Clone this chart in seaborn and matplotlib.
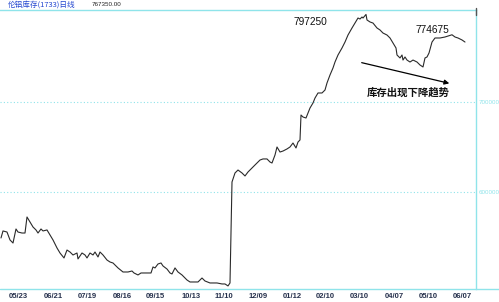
import numpy as np
import pandas as pd
import matplotlib
matplotlib.use("Agg")
import matplotlib.pyplot as plt
import seaborn as sns
from matplotlib.lines import Line2D

# ---- data (trading-day index, LME aluminium stocks in thousand tonnes) ----
day = [1, 3, 7, 10, 13, 16, 18, 22, 25, 27, 30, 33, 36, 38, 41, 43, 47, 50, 53, 57,
       60, 64, 67, 70, 73, 77, 78, 82, 85, 87, 90, 93, 95, 98, 100, 103, 107, 110, 113, 118,
       123, 128, 132, 134, 138, 141, 145, 151, 153, 155, 158, 161, 163, 167, 170, 172, 175, 178, 182, 187,
       190, 198, 202, 205, 210, 217, 222, 225, 228, 230, 232, 235, 238, 242, 245, 248, 252, 255, 260, 263,
       267, 270, 272, 275, 277, 280, 283, 287, 290, 293, 296, 298, 300, 301, 303, 306, 308, 310, 313, 315,
       318, 322, 325, 327, 330, 333, 335, 338, 342, 345, 348, 352, 355, 358, 360, 362, 363, 366, 367, 370,
       373, 377, 380, 383, 387, 390, 393, 396, 397, 400, 402, 403, 405, 407, 410, 413, 417, 420, 423, 425,
       427, 429, 432, 435, 440, 445, 448, 452, 455, 458, 462, 465]
stock_k = [548.9, 556.7, 555.5, 546.7, 543.3, 558.9, 555.5, 554.4, 554.4, 572.2, 566.7, 561.1, 557.8, 554.4, 558.9, 556.7, 557.8, 552.2, 546.7, 537.8,
           532.2, 526.7, 535.5, 533.3, 530.0, 532.2, 525.6, 532.2, 530.0, 526.7, 532.2, 530.0, 533.3, 527.8, 533.3, 530.0, 524.4, 522.2, 521.1, 515.6,
           511.1, 511.1, 512.2, 510.0, 507.8, 510.0, 510.0, 510.0, 516.7, 515.6, 520.0, 521.1, 517.8, 514.4, 510.0, 508.9, 515.6, 511.1, 507.8, 502.2,
           500.0, 500.0, 504.4, 501.1, 498.9, 498.9, 497.8, 497.8, 495.6, 498.9, 611.1, 621.1, 624.4, 621.1, 617.8, 622.2, 626.7, 630.0, 635.5, 636.7,
           636.7, 633.3, 632.2, 641.1, 650.0, 644.4, 645.5, 647.8, 650.0, 654.4, 648.9, 655.5, 657.8, 685.5, 683.3, 682.2, 687.8, 693.3, 698.9, 704.4,
           710.0, 710.0, 713.3, 721.1, 730.0, 737.8, 744.4, 752.2, 760.0, 766.6, 774.4, 782.2, 787.7, 793.3, 792.2, 794.4, 793.3, 797.25, 791.1, 788.9,
           787.7, 782.2, 780.0, 776.6, 774.4, 771.1, 765.5, 760.0, 752.2, 748.9, 752.2, 746.6, 750.0, 746.6, 744.4, 746.6, 744.4, 741.1, 738.9, 748.9,
           750.0, 754.4, 766.6, 771.1, 771.1, 772.2, 773.3, 774.675, 772.2, 771.1, 768.9, 766.6]
tick_pos = [18, 53, 87, 122, 155.5, 191, 224, 258, 292.5, 325.5, 359, 394.5, 428, 462]
tick_labels = ["05/23", "06/21", "07/19", "08/16", "09/15", "10/13", "11/10",
               "12/09", "01/12", "02/10", "03/10", "04/07", "05/10", "06/07"]
grid_vals = [600000, 700000]
title = "伦铝库存(1733)日线"
last_value = "767350.00"
peak_labels = ["797250", "774675"]
note = "库存出现下降趋势"

CYAN = "#8fe4ea"

sns.set_style("white")
plt.rcParams['font.family'] = ['Liberation Sans', 'Noto Sans CJK SC', 'DejaVu Sans']

fig = plt.figure(figsize=(4.99, 3.02), dpi=100)
ax = fig.add_axes([0, 13 / 302, 476 / 499, 279 / 302])

df = pd.DataFrame({"day": day, "stock": np.array(stock_k) * 1000})
sns.lineplot(data=df, x="day", y="stock", ax=ax, color="#2a2a2a", lw=0.8)

ax.set_xlim(0, 476)
ax.set_ylim(492200, 802200)
ax.set_xlabel("")
ax.set_ylabel("")

ax.set_xticks(tick_pos)
ax.set_xticklabels(tick_labels, fontsize=5.5, fontweight="bold", color="#26314d")
ax.tick_params(axis="x", length=0, pad=3)

ax.yaxis.tick_right()
ax.set_yticks(grid_vals)
ax.set_yticklabels([str(v) for v in grid_vals], fontsize=4.5, color=CYAN)
ax.tick_params(axis="y", length=0, pad=2)
ax.grid(axis="y", ls=(0, (1, 2)), color=CYAN, lw=0.8)
ax.grid(axis="x", visible=False)

for s in ["left", "bottom"]:
    ax.spines[s].set_visible(False)
for s in ["top", "right"]:
    ax.spines[s].set_color(CYAN)
    ax.spines[s].set_linewidth(1.0)

# full-width bottom rule and small dark mark at top right
fig.add_artist(Line2D([0, 1], [13 / 302, 13 / 302], color=CYAN, lw=1.0, transform=fig.transFigure))
fig.add_artist(Line2D([476 / 499, 476 / 499], [1 - 8 / 302, 1 - 15 / 302], color="#555555", lw=1.0,
                      transform=fig.transFigure))

# header
fig.text(8 / 499, 1 - 5 / 302, title, color="#2448d0", fontsize=5.5, va="center", ha="left",
         family=["Noto Sans CJK SC", "DejaVu Sans"])
fig.text(92 / 499, 1 - 5 / 302, last_value, color="#222222", fontsize=4.5, va="center", ha="left")

# annotations
ax.text(310, 789400, peak_labels[0], fontsize=7.3, ha="center", va="center", color="#111111")
ax.text(432, 780000, peak_labels[1], fontsize=7.3, ha="center", va="center", color="#111111")
ax.annotate("", xy=(452, 720000), xytext=(359, 744400),
            arrowprops=dict(arrowstyle="-|>", color="black", lw=0.9, mutation_scale=7))
ax.text(408, 710000, note, fontsize=7.5, fontweight="bold", ha="center", va="center",
        color="#111111", family=["Noto Sans CJK SC", "DejaVu Sans"])

fig.savefig("out.png", dpi=100)
